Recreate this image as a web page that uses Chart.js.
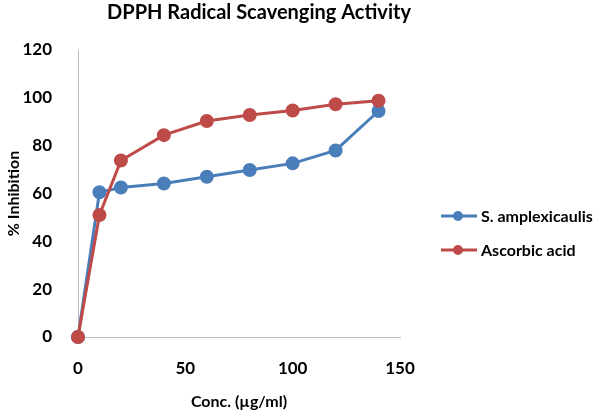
<!DOCTYPE html>
<html>
<head>
<meta charset="utf-8">
<script src="https://cdn.jsdelivr.net/npm/chart.js@4/dist/chart.umd.min.js"></script>
<style>
  html, body { margin: 0; padding: 0; background: #fff; }
  #wrap { width: 600px; height: 415px; }
</style>
</head>
<body>
<div id="wrap"><canvas id="chart"></canvas></div>
<script>
// Data
const conc = [0, 10, 20, 40, 60, 80, 100, 120, 140];
const amplexicaulis = [0, 60.5, 62.5, 64.2, 67, 69.8, 72.6, 78, 94.5];
const ascorbic = [0, 51, 73.8, 84.4, 90.3, 92.8, 94.7, 97.3, 98.8];
const xTicks = [0, 50, 100, 150];
const yTicks = [0, 20, 40, 60, 80, 100, 120];

const titleText = "DPPH Radical Scavenging Activity";
const FONT = "Lato, 'Open Sans', sans-serif";

const blue = "#4a7ebb";
const red = "#be4b48";

function toPoints(ys) {
    return conc.map((x, i) => ({ x: x, y: ys[i] }));
}

// title + legend drawn by hand
const extras = {
    id: "extras",
    afterDraw(chart) {
        const ctx = chart.ctx;
        const area = chart.chartArea;
        ctx.save();
        ctx.fillStyle = "#000";
        ctx.font = "bold 20px " + FONT;
        ctx.textAlign = "center";
        ctx.textBaseline = "middle";
        ctx.fillText(titleText, chart.width / 2 - 41, 13);

        const lx = area.right + 41;
        let ly = area.top + 166;
        ctx.font = "bold 16px " + FONT;
        ctx.textAlign = "left";
        [chart.data.datasets[0], chart.data.datasets[1]].forEach(ds => {
            ctx.strokeStyle = ds.borderColor;
            ctx.lineWidth = 3;
            ctx.beginPath();
            ctx.moveTo(lx, ly);
            ctx.lineTo(lx + 36, ly);
            ctx.stroke();
            ctx.fillStyle = ds.borderColor;
            ctx.beginPath();
            ctx.arc(lx + 17, ly, 5, 0, Math.PI * 2);
            ctx.fill();
            ctx.fillStyle = "#000";
            ctx.fillText(ds.label, lx + 40, ly + 1);
            ly += 34;
        });
        ctx.restore();
    }
};

new Chart(document.getElementById("chart"), {
    type: "line",
    data: {
        datasets: [
            {
                label: "S. amplexicaulis",
                data: toPoints(amplexicaulis),
                borderColor: blue,
                backgroundColor: blue,
                borderWidth: 3,
                pointRadius: 5.5,
                pointHoverRadius: 5.5,
                clip: false,
                order: 2
            },
            {
                label: "Ascorbic acid",
                data: toPoints(ascorbic),
                borderColor: red,
                backgroundColor: red,
                borderWidth: 3,
                pointRadius: 5.5,
                pointHoverRadius: 5.5,
                clip: false,
                order: 1
            }
        ]
    },
    options: {
        responsive: true,
        maintainAspectRatio: false,
        animation: false,
        layout: { padding: { top: 50, right: 200, left: 0, bottom: 0 } },
        plugins: {
            legend: { display: false },
            title: { display: false },
            tooltip: { enabled: false }
        },
        scales: {
            x: {
                type: "linear",
                min: 0,
                max: 150,
                afterBuildTicks: s => { s.ticks = xTicks.map(v => ({ value: v })); },
                afterFit: s => { s.height = 78; },
                grid: { display: false },
                border: { display: true, color: "#bdbdbd", width: 1 },
                ticks: {
                    padding: 13,
                    color: "#000",
                    font: { family: FONT, size: 17, weight: "bold" }
                },
                title: {
                    display: true,
                    text: "Conc. (µg/ml)",
                    color: "#000",
                    padding: { top: 6 },
                    font: { family: FONT, size: 16, weight: "bold" }
                }
            },
            y: {
                min: 0,
                max: 120,
                afterBuildTicks: s => { s.ticks = yTicks.map(v => ({ value: v })); },
                afterFit: s => { s.width = 78; },
                grid: { display: false },
                border: { display: true, color: "#bdbdbd", width: 1 },
                ticks: {
                    padding: 18,
                    color: "#000",
                    font: { family: FONT, size: 17, weight: "bold" }
                },
                title: {
                    display: true,
                    text: "% Inhibition",
                    color: "#000",
                    padding: { bottom: 2 },
                    font: { family: FONT, size: 16, weight: "bold" }
                }
            }
        }
    },
    plugins: [extras]
});
</script>
</body>
</html>
